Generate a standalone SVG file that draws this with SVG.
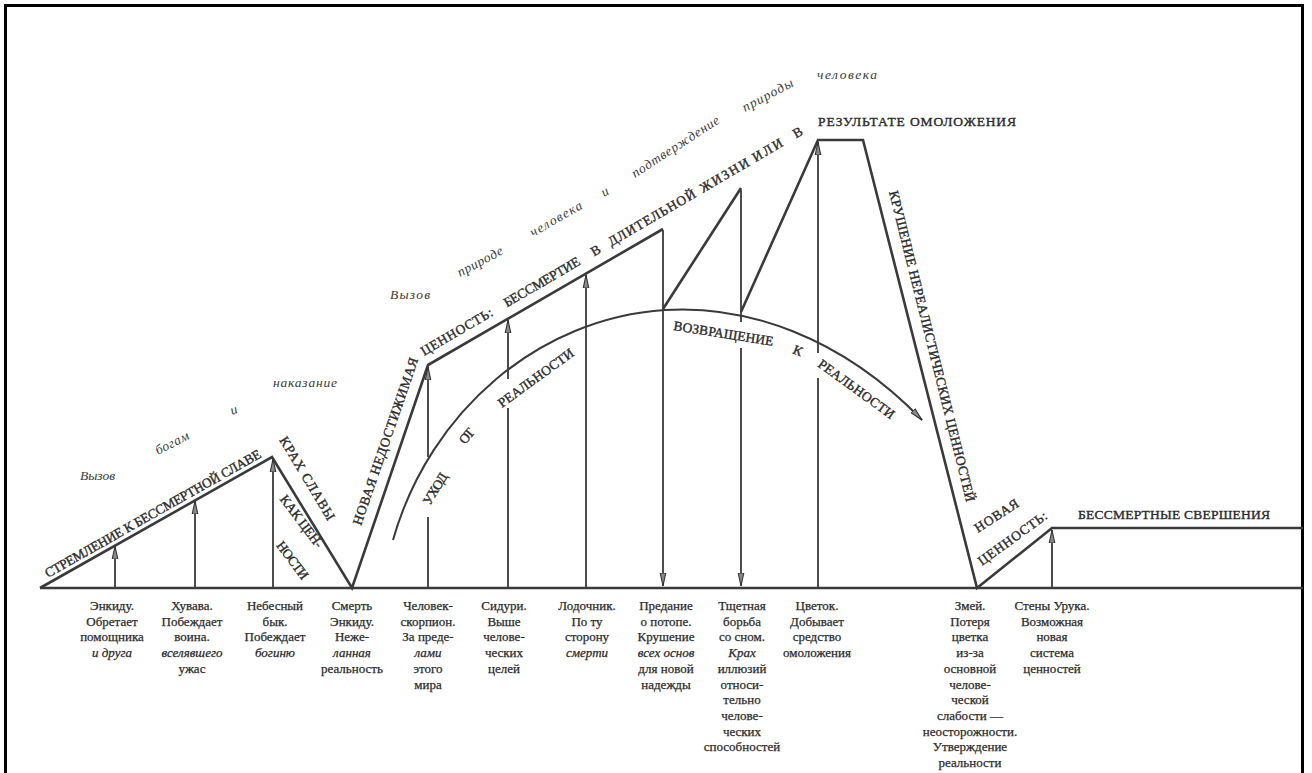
<svg xmlns="http://www.w3.org/2000/svg" width="1312" height="773" viewBox="0 0 1312 773">
<style>
.frame{fill:none;stroke:#000;stroke-width:3}
.ln{fill:none;stroke:#3a3a3a;stroke-width:2.6;stroke-linejoin:miter}
.vt{fill:none;stroke:#3a3a3a;stroke-width:1.8}
.arc{fill:none;stroke:#3a3a3a;stroke-width:2}
.cap{font-family:"Liberation Serif","DejaVu Serif",serif;font-size:13.5px;fill:#2a2a2a;stroke:#2a2a2a;stroke-width:0.35}
.it{font-family:"Liberation Serif","DejaVu Serif",serif;font-style:italic;font-size:13.5px;fill:#3a3a3a}
.lb{font-family:"Liberation Serif","DejaVu Serif",serif;font-size:13px;fill:#2a2a2a;stroke:#2a2a2a;stroke-width:0.25;text-anchor:middle}
.i{font-style:italic}
</style>
<defs>
<marker id="ah" viewBox="0 0 14 8" refX="13" refY="4" markerWidth="14" markerHeight="8" markerUnits="userSpaceOnUse" orient="auto">
<path d="M0,1.2 L13,4 L0,6.8 Z" fill="#8a8a8a" stroke="#333" stroke-width="1.1"/>
</marker>
</defs>
<rect x="0" y="0" width="1312" height="773" fill="#fff"/>
<path class="frame" d="M5.5,780 V5.5 H1302.5 V780"/>

<g id="connectors">
<path class="ln" d="M40,588 H1303"/>
<path class="ln" d="M40,588 L272,457 L352,588 L428,365 L663,229"/>
<path class="ln" d="M663,309 L741,188"/>
<path class="ln" d="M741,312 L818,140 L863,140 L977,588 L1052,528 L1303,528"/>
<path class="arc" d="M393,540 C430,410 540,318 665,310 C745,305 840,335 922,420" marker-end="url(#ah)"/>
<path class="vt" d="M115,588 V546" marker-end="url(#ah)"/>
<path class="vt" d="M195,588 V501" marker-end="url(#ah)"/>
<path class="vt" d="M273,588 V459" marker-end="url(#ah)"/>
<path class="vt" d="M428,588 V517"/>
<path class="vt" d="M428,457 V367" marker-end="url(#ah)"/>
<path class="vt" d="M508,588 V408"/>
<path class="vt" d="M508,379 V320" marker-end="url(#ah)"/>
<path class="vt" d="M586,588 V275" marker-end="url(#ah)"/>
<path class="vt" d="M663,230 V586" marker-end="url(#ah)"/>
<path class="vt" d="M741,190 V322"/>
<path class="vt" d="M741,348 V586" marker-end="url(#ah)"/>
<path class="vt" d="M818,588 V378"/>
<path class="vt" d="M818,353 V142" marker-end="url(#ah)"/>
<path class="vt" d="M1052,588 V530" marker-end="url(#ah)"/>
</g>

<g id="stage1">
<text class="cap" transform="translate(48,578) rotate(-29.5)" textLength="246">СТРЕМЛЕНИЕ К БЕССМЕРТНОЙ СЛАВЕ</text>
<text class="cap" transform="translate(279,440) rotate(59)" textLength="95">КРАХ СЛАВЫ</text>
<text class="cap" transform="translate(298,524) rotate(53)" text-anchor="middle" textLength="62">КАК ЦЕН-</text>
<text class="cap" transform="translate(289,563) rotate(53)" text-anchor="middle" textLength="44">НОСТИ</text>
<text class="it" x="80" y="480" textLength="35">Вызов</text>
<text class="it" transform="translate(158,455) rotate(-27)" textLength="36">богам</text>
<text class="it" transform="translate(232,415) rotate(-20)">и</text>
<text class="it" x="273" y="387" textLength="64">наказание</text>
</g>

<g id="stage2">
<text class="cap" transform="translate(361,526) rotate(-71)" textLength="176">НОВАЯ НЕДОСТИЖИМАЯ</text>
<g transform="translate(424,356) rotate(-30.3)">
<text class="cap" x="0" y="0" textLength="81">ЦЕННОСТЬ:</text>
<text class="cap" x="96" y="0" textLength="86">БЕССМЕРТИЕ</text>
<text class="cap" x="197" y="0">В</text>
<text class="cap" x="217" y="0" textLength="99">ДЛИТЕЛЬНОЙ</text>
<text class="cap" x="323" y="0" textLength="55">ЖИЗНИ</text>
<text class="cap" x="384" y="0" textLength="33">ИЛИ</text>
<text class="cap" x="431" y="0">В</text>
</g>
<text class="cap" x="818" y="126" textLength="198">РЕЗУЛЬТАТЕ ОМОЛОЖЕНИЯ</text>
<text class="it" x="390" y="299" textLength="40">Вызов</text>
<text class="it" transform="translate(460,277) rotate(-28)" textLength="50">природе</text>
<text class="it" transform="translate(533,237) rotate(-30)" textLength="58">человека</text>
<text class="it" transform="translate(604,197) rotate(-30)">и</text>
<text class="it" transform="translate(635,178) rotate(-33)" textLength="102">подтверждение</text>
<text class="it" transform="translate(745,112) rotate(-28)" textLength="56">природы</text>
<text class="it" x="817" y="79" textLength="60">человека</text>
</g>

<g id="arc-labels">
<text class="cap" transform="translate(430,506) rotate(-59)" textLength="35">УХОД</text>
<text class="cap" transform="translate(465,445) rotate(-50)" textLength="16">ОТ</text>
<text class="cap" transform="translate(502,408) rotate(-36)" textLength="90">РЕАЛЬНОСТИ</text>
<text class="cap" transform="translate(673,330) rotate(9)" textLength="101">ВОЗВРАЩЕНИЕ</text>
<text class="cap" transform="translate(792,353) rotate(22)">К</text>
<text class="cap" transform="translate(817,366) rotate(36)" textLength="91">РЕАЛЬНОСТИ</text>
</g>

<g id="stage3">
<text class="cap" transform="translate(889,192) rotate(76)" textLength="320">КРУШЕНИЕ НЕРЕАЛИСТИЧЕСКИХ ЦЕННОСТЕЙ</text>
<text class="cap" transform="translate(978,533) rotate(-33)" textLength="50">НОВАЯ</text>
<text class="cap" transform="translate(982,566) rotate(-36)" textLength="82">ЦЕННОСТЬ:</text>
<text class="cap" x="1078" y="519" textLength="192">БЕССМЕРТНЫЕ СВЕРШЕНИЯ</text>
</g>

<g id="bottom-labels">
<g id="n-enkidu"><text class="lb" x="112" y="610"><tspan x="112">Энкиду.</tspan><tspan x="112" dy="15.7">Обретает</tspan><tspan x="112" dy="15.7">помощника</tspan><tspan x="112" dy="15.7" class="i">и друга</tspan></text></g>
<g id="n-huvava"><text class="lb" x="192" y="610"><tspan x="192">Хувава.</tspan><tspan x="192" dy="15.7">Побеждает</tspan><tspan x="192" dy="15.7">воина.</tspan><tspan x="192" dy="15.7" class="i">вселявшего</tspan><tspan x="192" dy="15.7">ужас</tspan></text></g>
<g id="n-byk"><text class="lb" x="275" y="610"><tspan x="275">Небесный</tspan><tspan x="275" dy="15.7">бык.</tspan><tspan x="275" dy="15.7">Побеждает</tspan><tspan x="275" dy="15.7" class="i">богиню</tspan></text></g>
<g id="n-smert"><text class="lb" x="352" y="610"><tspan x="352">Смерть</tspan><tspan x="352" dy="15.7">Энкиду.</tspan><tspan x="352" dy="15.7">Неже-</tspan><tspan x="352" dy="15.7" class="i">ланная</tspan><tspan x="352" dy="15.7">реальность</tspan></text></g>
<g id="n-skorpion"><text class="lb" x="428" y="610"><tspan x="428">Человек-</tspan><tspan x="428" dy="15.7">скорпион.</tspan><tspan x="428" dy="15.7">За преде-</tspan><tspan x="428" dy="15.7" class="i">лами</tspan><tspan x="428" dy="15.7">этого</tspan><tspan x="428" dy="15.7">мира</tspan></text></g>
<g id="n-siduri"><text class="lb" x="504" y="610"><tspan x="504">Сидури.</tspan><tspan x="504" dy="15.7">Выше</tspan><tspan x="504" dy="15.7">челове-</tspan><tspan x="504" dy="15.7">ческих</tspan><tspan x="504" dy="15.7">целей</tspan></text></g>
<g id="n-lodochnik"><text class="lb" x="587" y="610"><tspan x="587">Лодочник.</tspan><tspan x="587" dy="15.7">По ту</tspan><tspan x="587" dy="15.7">сторону</tspan><tspan x="587" dy="15.7" class="i">смерти</tspan></text></g>
<g id="n-potop"><text class="lb" x="666" y="610"><tspan x="666">Предание</tspan><tspan x="666" dy="15.7">о потопе.</tspan><tspan x="666" dy="15.7">Крушение</tspan><tspan x="666" dy="15.7" class="i">всех основ</tspan><tspan x="666" dy="15.7">для новой</tspan><tspan x="666" dy="15.7">надежды</tspan></text></g>
<g id="n-son"><text class="lb" x="742" y="610"><tspan x="742">Тщетная</tspan><tspan x="742" dy="15.7">борьба</tspan><tspan x="742" dy="15.7">со сном.</tspan><tspan x="742" dy="15.7" class="i">Крах</tspan><tspan x="742" dy="15.7">иллюзий</tspan><tspan x="742" dy="15.7">относи-</tspan><tspan x="742" dy="15.7">тельно</tspan><tspan x="742" dy="15.7">челове-</tspan><tspan x="742" dy="15.7">ческих</tspan><tspan x="742" dy="15.7">способностей</tspan></text></g>
<g id="n-cvetok"><text class="lb" x="817" y="610"><tspan x="817">Цветок.</tspan><tspan x="817" dy="15.7">Добывает</tspan><tspan x="817" dy="15.7">средство</tspan><tspan x="817" dy="15.7">омоложения</tspan></text></g>
<g id="n-zmei"><text class="lb" x="970" y="610"><tspan x="970">Змей.</tspan><tspan x="970" dy="15.7">Потеря</tspan><tspan x="970" dy="15.7">цветка</tspan><tspan x="970" dy="15.7">из-за</tspan><tspan x="970" dy="15.7">основной</tspan><tspan x="970" dy="15.7">челове-</tspan><tspan x="970" dy="15.7">ческой</tspan><tspan x="970" dy="15.7">слабости —</tspan><tspan x="970" dy="15.7">неосторожности.</tspan><tspan x="970" dy="15.7">Утверждение</tspan><tspan x="970" dy="15.7">реальности</tspan></text></g>
<g id="n-uruk"><text class="lb" x="1052" y="610"><tspan x="1052">Стены Урука.</tspan><tspan x="1052" dy="15.7">Возможная</tspan><tspan x="1052" dy="15.7">новая</tspan><tspan x="1052" dy="15.7">система</tspan><tspan x="1052" dy="15.7">ценностей</tspan></text></g>
</g>
</svg>
